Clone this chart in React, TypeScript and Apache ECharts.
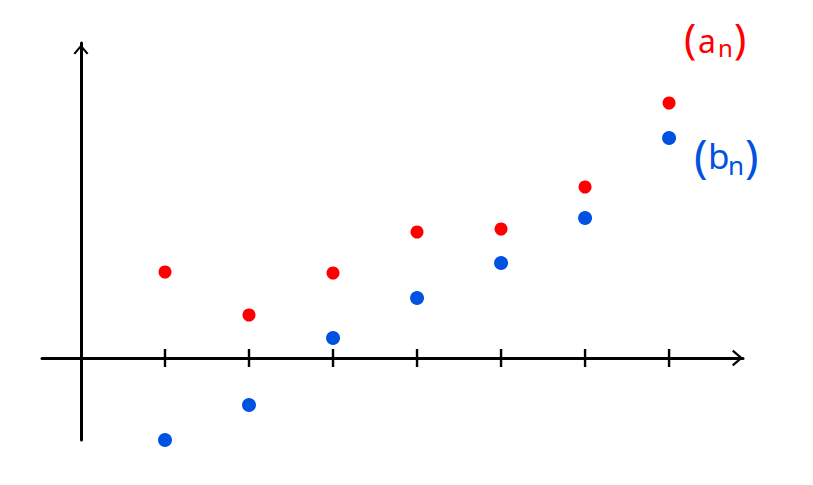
import React, { useEffect, useRef } from "react";
import * as echarts from "echarts";

const nValues = [1, 2, 3, 4, 5, 6, 7];
const aValues = [4.3, 2.15, 4.25, 6.3, 6.45, 8.55, 12.75];
const bValues = [-4.1, -2.35, 1.0, 3.0, 4.75, 7.0, 11.0];
const tickPositions = [1, 2, 3, 4, 5, 6, 7];

const RED = "#fe0000";
const BLUE = "#0052e0";

const chevron = "path://M0,9.2 L8,0 L16,9.2 L14.2,10.6 L8,3.2 L1.8,10.6 Z";

export default function App() {
  const ref = useRef<HTMLDivElement>(null);
  useEffect(() => {
    if (!ref.current) return;
    const chart = echarts.init(ref.current, null, { renderer: "svg" });
    const font = "Noto Sans";
    const txt = (x: number, y: number, s: string, size: number, color: string) => ({
      type: "text",
      x,
      y,
      style: { text: s, fontSize: size, fontFamily: font, fill: color, textVerticalAlign: "top" },
    });
    chart.setOption({
      animation: false,
      backgroundColor: "#ffffff",
      grid: { left: 42, right: 70, top: 43, bottom: 45, containLabel: false },
      xAxis: {
        type: "value",
        min: -0.464,
        max: 7.88,
        axisLine: {
          onZero: true,
          lineStyle: { color: "#000", width: 3 },
          symbol: ["none", chevron],
          symbolSize: [20, 11],
          symbolOffset: [0, -5.5],
        },
        axisTick: { show: false },
        axisLabel: { show: false },
        splitLine: { show: false },
      },
      yAxis: {
        type: "value",
        min: -4.1,
        max: 15.75,
        axisLine: {
          onZero: true,
          lineStyle: { color: "#000", width: 3 },
          symbol: ["none", chevron],
          symbolSize: [15, 13],
          symbolOffset: [0, -6.5],
        },
        axisTick: { show: false },
        axisLabel: { show: false },
        splitLine: { show: false },
      },
      series: [
        {
          type: "scatter",
          name: "ticks",
          silent: true,
          symbol: "rect",
          symbolSize: [2.4, 18],
          itemStyle: { color: "#000", opacity: 1 },
          data: tickPositions.map((t) => [t, 0]),
        },
        {
          type: "scatter",
          name: "a_n",
          symbolSize: 13,
          itemStyle: { color: RED, opacity: 1 },
          data: nValues.map((n, i) => [n, aValues[i]]),
        },
        {
          type: "scatter",
          name: "b_n",
          symbolSize: 14,
          itemStyle: { color: BLUE, opacity: 1 },
          data: nValues.map((n, i) => [n, bValues[i]]),
        },
      ],
      graphic: [
        txt(684, 17, "(", 41, RED),
        txt(698, 24, "a", 32, RED),
        txt(718, 35, "n", 24, RED),
        txt(734, 17, ")", 41, RED),
        txt(694, 133, "(", 45, BLUE),
        txt(708, 138, "b", 35, BLUE),
        txt(728, 152, "n", 26, BLUE),
        txt(745, 133, ")", 45, BLUE),
      ],
    });
    return () => chart.dispose();
  }, []);
  return <div ref={ref} style={{ width: 813, height: 485, position: "fixed", left: 0, top: 0 }} />;
}
